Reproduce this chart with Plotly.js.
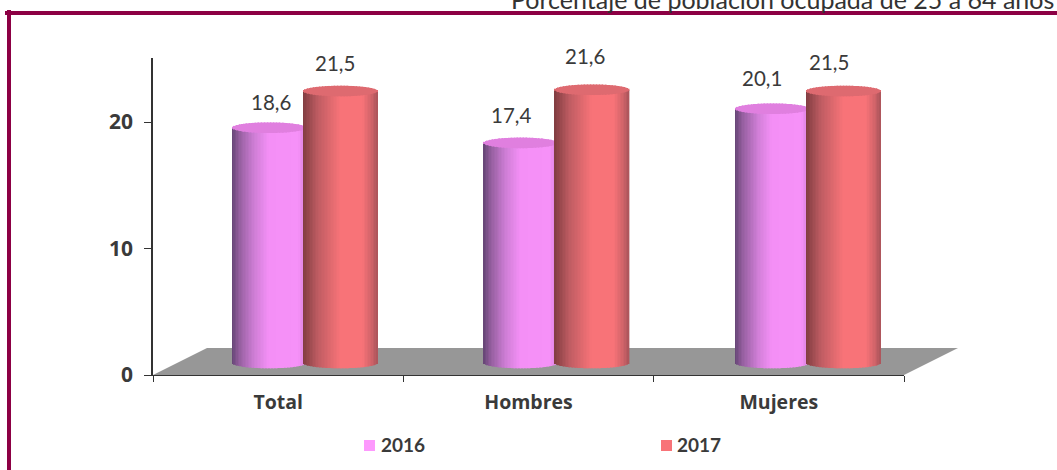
<!DOCTYPE html>
<html><head><meta charset="utf-8">
<script src="https://cdn.plot.ly/plotly-3.0.1.min.js"></script>
<style>html,body{margin:0;padding:0;background:#fff;overflow:hidden}</style>
</head><body><div id="chart" style="width:1057px;height:470px"></div>
<script>
const categories = ['Total', 'Hombres', 'Mujeres'];
const seriesNames = ['2016', '2017'];
const values2016 = [18.6, 17.4, 20.1];
const values2017 = [21.5, 21.6, 21.5];
const labels2016 = ['18,6', '17,4', '20,1'];
const labels2017 = ['21,5', '21,6', '21,5'];
const subtitle = 'Porcentaje de población ocupada de 25 a 64 años';

const W = 1057, H = 470, L = 153, R = 904, T = 58, B = 375;
const FONT = 'Lato, "Open Sans", sans-serif';
const BOLD = '"Open Sans", Lato, sans-serif';
const INK = '#3a3a3a';
const yMax = (B - T) / 12.65;
const lift = 0.95, capRy = 0.42, drift = 0.005;
const STRIPS = 50;

const looks = [
  { vals: values2016, labels: labels2016, left: -0.184, width: 0.296, cap: '#e07fdf', key: '#fd99fd',
    stops: [[0,[100,68,116]],[0.1,[148,94,158]],[0.3,[205,125,212]],[0.5,[244,143,246]],[0.9,[246,145,248]],[1,[214,128,216]]],
    nudge: [[2, 2], [-8, 4], [-8, 7]] },
  { vals: values2017, labels: labels2017, left: 0.1, width: 0.298, cap: '#de6a70', key: '#f87378',
    stops: [[0,[128,60,64]],[0.2,[190,92,98]],[0.5,[248,115,120]],[0.8,[248,115,120]],[0.93,[205,98,104]],[1,[170,84,90]]],
    nudge: [[-6, 4], [-6, 10], [-12, 5]] }
];

function mix(stops, t) {
  for (let i = 1; i < stops.length; i++) {
    if (t <= stops[i][0]) {
      const a = stops[i-1], b = stops[i], f = (t - a[0]) / (b[0] - a[0]);
      const c = a[1].map((v, k) => Math.round(v + (b[1][k] - v) * f));
      return `rgb(${c[0]},${c[1]},${c[2]})`;
    }
  }
  return `rgb(${stops[stops.length-1][1].join(',')})`;
}

const traces = [];
const annotations = [];
looks.forEach(look => {
  const dw = look.width / STRIPS;
  const offsets = i => categories.map((_, c) => look.left + i * dw + c * drift);
  for (let i = 0; i < STRIPS; i++) {
    const t = (i + 0.5) / STRIPS;
    const arc = Math.sqrt(1 - (2 * t - 1) ** 2) * capRy;
    traces.push({
      type: 'bar', x: categories, y: look.vals.map(v => v + arc),
      base: lift - arc, width: dw, offset: offsets(i),
      marker: { color: mix(look.stops, t), line: { width: 0 } },
      showlegend: false, hoverinfo: 'skip'
    });
  }
  for (let i = 0; i < STRIPS; i++) {
    const t = (i + 0.5) / STRIPS;
    const arc = Math.sqrt(1 - (2 * t - 1) ** 2) * capRy;
    traces.push({
      type: 'bar', x: categories, y: categories.map(() => 2 * arc),
      base: look.vals.map(v => v + lift - arc), width: dw, offset: offsets(i),
      marker: { color: look.cap, line: { width: 0 } },
      showlegend: false, hoverinfo: 'skip'
    });
  }
  look.vals.forEach((v, c) => {
    annotations.push({
      x: c + look.left + look.width / 2, y: v, xref: 'x', yref: 'y',
      text: look.labels[c], showarrow: false, xanchor: 'center', yanchor: 'middle',
      xshift: look.nudge[c][0], yshift: 36 + look.nudge[c][1],
      font: { family: FONT, size: 20.5, color: INK }
    });
  });
});

const px = x => (x - L) / (R - L);
const py = y => (B - y) / (B - T);
const box = (x0, y0, x1, y1, color) => ({ type: 'rect', xref: 'paper', yref: 'paper',
  x0: px(x0), x1: px(x1), y0: py(y0), y1: py(y1), fillcolor: color, line: { width: 0 }, layer: 'above' });

const shapes = [
  { type: 'path', xref: 'paper', yref: 'paper', layer: 'below', fillcolor: '#979797', line: { width: 0 },
    path: `M ${px(L)} ${py(B)} L ${px(207)} ${py(348)} L ${px(958)} ${py(348)} L ${px(R)} ${py(B)} Z` },
  box(5, 11, W, 15, '#8c0044'),
  box(7, 10, 11, H, '#8c0044'),
  box(364, 440, 375, 451, looks[0].key),
  box(661, 440, 672, 451, looks[1].key)
];

annotations.push(
  { xref: 'paper', yref: 'paper', x: px(378.5), y: py(444.5), text: seriesNames[0], showarrow: false, xanchor: 'left', yanchor: 'middle',
    font: { family: FONT, size: 19, color: INK, weight: 700 } },
  { xref: 'paper', yref: 'paper', x: px(674.5), y: py(444.5), text: seriesNames[1], showarrow: false, xanchor: 'left', yanchor: 'middle',
    font: { family: FONT, size: 19, color: INK, weight: 700 } },
  { xref: 'paper', yref: 'paper', x: px(1056), y: py(-1), text: subtitle, showarrow: false, xanchor: 'right', yanchor: 'middle',
    font: { family: FONT, size: 25, color: '#333' } }
);

const layout = {
  width: W, height: H, margin: { l: L, r: W - R, t: T, b: H - B, pad: 0 },
  paper_bgcolor: '#fff', plot_bgcolor: 'rgba(0,0,0,0)',
  barmode: 'overlay', showlegend: false,
  xaxis: { type: 'category', categoryorder: 'array', categoryarray: categories, range: [-0.5, 2.5], fixedrange: true,
    tickson: 'boundaries', ticks: 'outside', ticklen: 6, tickwidth: 1, tickcolor: '#333',
    showline: true, linecolor: '#333', linewidth: 1, showgrid: false, zeroline: false,
    ticklabelstandoff: 10,
    tickfont: { family: BOLD, size: 19.5, color: INK, weight: 700 } },
  yaxis: { range: [0, yMax], tickvals: [0, 10, 20], ticktext: ['0', '10', '20'], fixedrange: true,
    ticks: 'outside', ticklen: 7, tickwidth: 1, tickcolor: '#333',
    showline: true, linecolor: '#333', linewidth: 1.5, showgrid: false, zeroline: false,
    ticklabelstandoff: 7,
    tickfont: { family: BOLD, size: 21, color: INK, weight: 700 } },
  shapes, annotations
};
Plotly.newPlot('chart', traces, layout, { displayModeBar: false, responsive: false });
</script></body></html>
